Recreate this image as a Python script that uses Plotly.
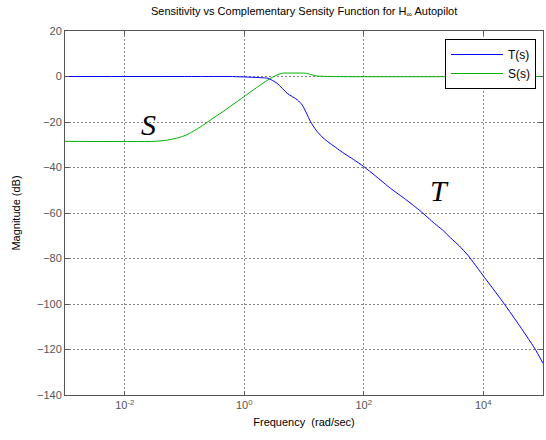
import numpy as np
import plotly.graph_objects as go

# log10 of frequency (rad/sec) and magnitude (dB)
t_logw = [-3, -1, -0.5, -0.25, 0, 0.27, 0.4, 0.55, 0.72, 0.89, 0.97, 1.04, 1.11, 1.2, 1.3, 1.39,
          1.53, 1.67, 1.83, 2.0, 2.2, 2.45, 2.7, 2.96, 3.18, 3.32, 3.46, 3.6, 3.74, 4.02, 4.3, 4.58, 4.86, 5.0]
t_db = [0, 0, 0, 0, -0.2, -0.5, -0.8, -3.0, -7.4, -10.3, -12.5, -16.0, -19.9, -23.5, -26.5, -28.5,
        -31.2, -33.8, -36.5, -39.6, -43.8, -49.2, -54.0, -59.4, -64.5, -67.5, -71.1, -74.5, -78.5, -88.3, -98.1, -108.5, -119.5, -126.0]

s_logw = [-3, -1.5, -1.3, -1.1, -0.96, -0.74, -0.52, -0.3, -0.07, 0.2, 0.44, 0.62, 0.8, 1.04, 1.19, 1.4, 5]
s_db = [-28.5, -28.5, -28.0, -26.9, -25.6, -22.3, -18.3, -14.4, -10.1, -5.0, -0.8, 1.4, 1.5, 1.4, 0.3, 0, 0]

x_ticks = [0.01, 1, 100, 10000]
x_ticktext = ["10<sup>-2</sup>", "10<sup>0</sup>", "10<sup>2</sup>", "10<sup>4</sup>"]
y_ticks = [20, 0, -20, -40, -60, -80, -100, -120, -140]

t_w = [10 ** v for v in t_logw]
s_w = [10 ** v for v in s_logw]

FONT = "Liberation Sans, Arial, sans-serif"
fig = go.Figure()
fig.add_trace(go.Scatter(x=t_w, y=t_db, mode="lines", name="T(s)",
                         line=dict(color="#0000ff", width=1, shape="spline", smoothing=0.6)))
fig.add_trace(go.Scatter(x=s_w, y=s_db, mode="lines", name="S(s)",
                         line=dict(color="#00b000", width=1, shape="spline", smoothing=0.6)))

fig.add_annotation(x=-1.61, y=-20.9, xref="x", yref="y", text="<i>S</i>", showarrow=False,
                   font=dict(family="Liberation Serif, Times New Roman, serif", size=30, color="black"))
fig.add_annotation(x=3.26, y=-50.1, xref="x", yref="y", text="<i>T</i>", showarrow=False,
                   font=dict(family="Liberation Serif, Times New Roman, serif", size=30, color="black"))

axis_common = dict(showline=True, linecolor="#555555", linewidth=1, mirror="ticks",
                   ticks="inside", ticklen=4, tickcolor="#555555",
                   showgrid=True, gridcolor="#888888", gridwidth=1, griddash="2px,2px",
                   zeroline=False, tickfont=dict(family=FONT, size=11, color="#555555"))

fig.update_xaxes(type="log", range=[-3, 5], tickvals=x_ticks, ticktext=x_ticktext,
                 title=dict(text="Frequency  (rad/sec)", font=dict(family=FONT, size=11, color="black"), standoff=8),
                 **axis_common)
fig.update_yaxes(range=[-140, 20], tickvals=y_ticks,
                 title=dict(text="Magnitude (dB)", font=dict(family=FONT, size=11, color="black"), standoff=14),
                 **axis_common)

fig.update_layout(
    width=546, height=440,
    margin=dict(l=65, r=3, t=31, b=45),
    paper_bgcolor="white", plot_bgcolor="white",
    title=dict(text="Sensitivity vs Complementary Sensity Function for H<sub>∞</sub> Autopilot",
               x=0.557, xanchor="center", y=1 - 11 / 440, yanchor="middle", yref="container",
               font=dict(family=FONT, size=11, color="black")),
    legend=dict(x=0.795, y=0.978, xanchor="left", yanchor="top", bgcolor="white",
                bordercolor="black", borderwidth=1, font=dict(family=FONT, size=12, color="black"),
                tracegroupgap=0, itemwidth=52, entrywidthmode="pixels", entrywidth=88),
    showlegend=True,
)

fig.write_html("out.html")
